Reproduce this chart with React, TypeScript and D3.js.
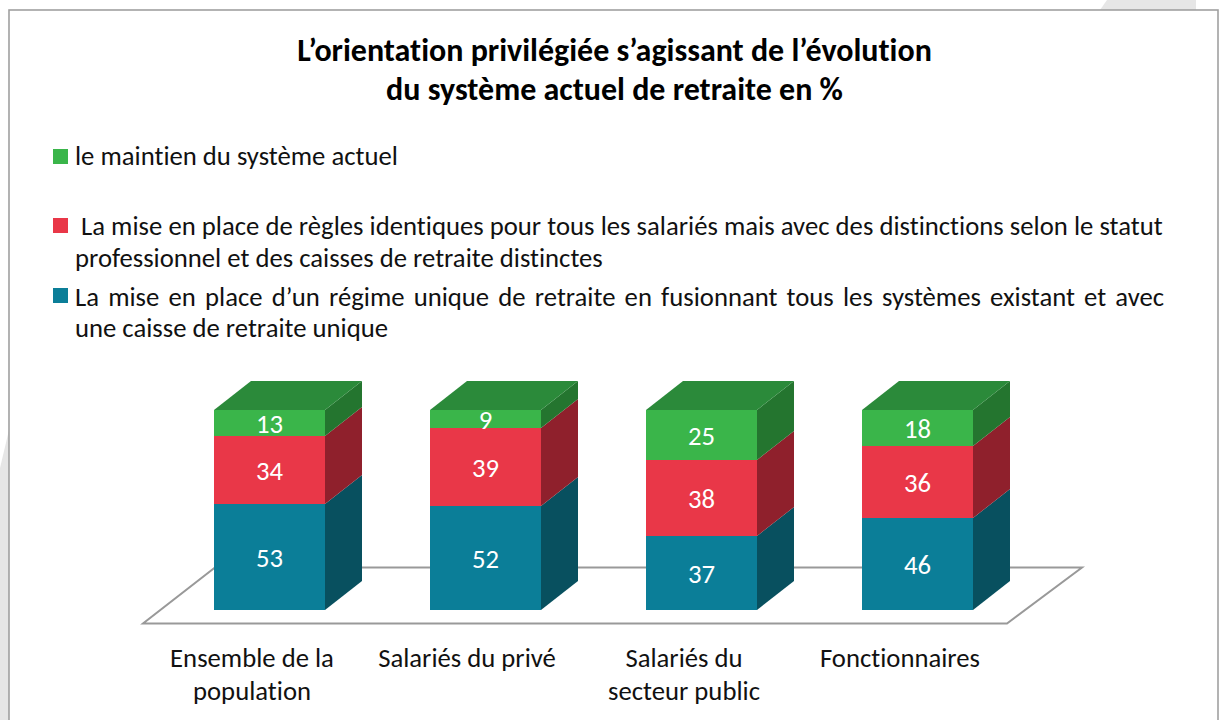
import React from "react";
import * as d3 from "d3";

const titleLines = ["L’orientation privilégiée s’agissant de l’évolution", "du système actuel de retraite en %"];
const categories = [["Ensemble de la", "population"], ["Salariés du privé"], ["Salariés du", "secteur public"], ["Fonctionnaires"]];
const unique = [53, 52, 37, 46];
const mixte = [34, 39, 38, 36];
const maintien = [13, 9, 25, 18];
const seriesColors = [
  { front: "#0b7e98", side: "#08505f", top: "#08505f" },
  { front: "#e93748", side: "#8f202c", top: "#8f202c" },
  { front: "#3ab54a", side: "#24752f", top: "#2b8a3a" },
];
const series = [unique, mixte, maintien];
const legendLineA = "La mise en place de règles identiques pour tous les salariés mais avec des distinctions selon le statut";
const legendLineB = "La mise en place d’un régime unique de retraite en fusionnant tous les systèmes existant et avec";

const W = 1219, H = 720;
const font = "Carlito, 'Open Sans', 'Noto Sans', sans-serif";
const textStyle = { fontVariantLigatures: "none" } as React.CSSProperties;
const bodySize = 26.7;
const y = d3.scaleLinear().domain([0, 100]).range([610, 410]);
const x = d3.scaleLinear().domain([0, 1]).range([214, 430]);
const dx = 37, dy = -29;

function wordSpacingFor(text: string, target: number) {
  const ctx = document.createElement("canvas").getContext("2d");
  if (!ctx) return 0;
  ctx.font = `${bodySize}px ${font}`;
  const natural = ctx.measureText(text).width;
  return (target - natural) / (text.split(" ").length - 1);
}

export default function App() {
  const bw = 111;
  const stacks = d3.stack<number>().keys(["0", "1", "2"]).value((i, k) => series[+k][i])([0, 1, 2, 3]);
  return (
    <svg width={W} height={H} style={{ position: "absolute", left: 0, top: 0, background: "#fff" }}>
      <polygon points="0,468 9,430 9,720 0,720" fill="#e6e6e6" />
      <polygon points="1100,10 1107,0 1196,0 1196,10" fill="#e6e6e6" />
      <rect x={9} y={10} width={1209} height={720} fill="#fff" stroke="#a0a0a0" strokeWidth={1.6} />
      <g style={textStyle}>
        {titleLines.map((t, i) => (
          <text key={i} x={614.5} y={61 + i * 39} textAnchor="middle" fontFamily={font} fontWeight={700} fontSize={32} fill="#000">{t}</text>
        ))}
        <rect x={53} y={149} width={15} height={15} fill={seriesColors[2].front} />
        <rect x={53} y={218} width={15} height={15} fill={seriesColors[1].front} />
        <rect x={53} y={288} width={15} height={15} fill={seriesColors[0].front} />
        <g fontFamily={font} fontSize={bodySize} fill="#111">
          <text x={75} y={164.5}>le maintien du système actuel</text>
          <text x={81} y={234.5} wordSpacing={wordSpacingFor(legendLineA, 1081)}>{legendLineA}</text>
          <text x={75} y={266.5}>professionnel et des caisses de retraite distinctes</text>
          <text x={75} y={305.5} wordSpacing={wordSpacingFor(legendLineB, 1089)}>{legendLineB}</text>
          <text x={75} y={336.5}>une caisse de retraite unique</text>
        </g>
        <path d="M143,623.5 L1007,623.5 L1082,567.5 L215,567.5 Z" fill="#fff" stroke="#999999" strokeWidth={2} />
        {[0, 1, 2, 3].map((i) => (
          <g key={i}>
            {stacks.map((s, k) => {
              const y0 = y(s[i][0]), y1 = y(s[i][1]);
              const c = seriesColors[k];
              const X = x(i);
              return (
                <g key={k}>
                  <rect x={X} y={y1} width={bw} height={y0 - y1} fill={c.front} />
                  <polygon points={`${X + bw},${y0} ${X + bw + dx},${y0 + dy} ${X + bw + dx},${y1 + dy} ${X + bw},${y1}`} fill={c.side} />
                  {k === 2 && <polygon points={`${X},${y1} ${X + dx},${y1 + dy} ${X + bw + dx},${y1 + dy} ${X + bw},${y1}`} fill={c.top} />}
                  <text x={X + bw / 2} y={(y0 + y1) / 2 + 10.2} textAnchor="middle" fontFamily={font} fontSize={bodySize} fill="#fff">{series[k][i]}</text>
                </g>
              );
            })}
          </g>
        ))}
        {categories.map((lines, i) => lines.map((t, j) => (
          <text key={`${i}-${j}`} x={[252, 467, 684, 900][i]} y={666.5 + j * 33} textAnchor="middle" fontFamily={font} fontSize={bodySize} fill="#111">{t}</text>
        )))}
      </g>
    </svg>
  );
}
